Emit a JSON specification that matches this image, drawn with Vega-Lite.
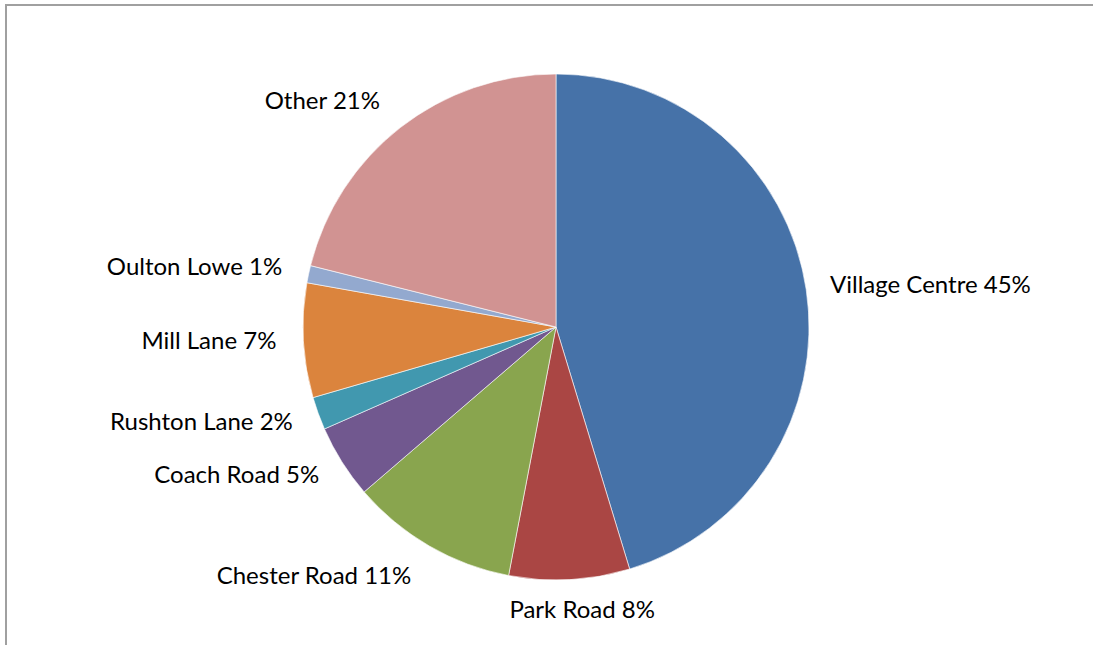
{
  "$schema": "https://vega.github.io/schema/vega-lite/v6.json",
  "autosize": "none",
  "width": 1100,
  "height": 644,
  "padding": {"left": 6, "top": 5, "right": -13, "bottom": -4},
  "background": "white",
  "data": {"values": [
    {"idx": 1, "category": "Village Centre", "value": 45.3, "label": "Village Centre 45%"},
    {"idx": 2, "category": "Park Road", "value": 7.7, "label": "Park Road 8%"},
    {"idx": 3, "category": "Chester Road", "value": 10.7, "label": "Chester Road 11%"},
    {"idx": 4, "category": "Coach Road", "value": 4.7, "label": "Coach Road 5%"},
    {"idx": 5, "category": "Rushton Lane", "value": 2.1, "label": "Rushton Lane 2%"},
    {"idx": 6, "category": "Mill Lane", "value": 7.3, "label": "Mill Lane 7%"},
    {"idx": 7, "category": "Oulton Lowe", "value": 1.1, "label": "Oulton Lowe 1%"},
    {"idx": 8, "category": "Other", "value": 21.1, "label": "Other 21%"}
  ]},
  "layer": [
    {
      "data": {"values": [{"frame": 1}]},
      "mark": {"type": "rect", "fill": null, "fillOpacity": 0, "stroke": "#a0a0a0", "strokeWidth": 2, "x2Offset": 40, "y2Offset": 40},
      "encoding": {}
    },
    {
      "mark": {"type": "arc", "outerRadius": 253, "stroke": "white", "strokeWidth": 0.6},
      "encoding": {
        "theta": {"field": "value", "type": "quantitative", "stack": true},
        "order": {"field": "idx", "type": "quantitative"},
        "color": {
          "field": "category", "type": "nominal", "legend": null,
          "scale": {
            "domain": ["Village Centre", "Park Road", "Chester Road", "Coach Road", "Rushton Lane", "Mill Lane", "Oulton Lowe", "Other"],
            "range": ["#4672A8", "#AA4644", "#89A54E", "#71588F", "#4198AF", "#DB843D", "#93A9CF", "#D19392"]
          }
        }
      }
    },
    {
      "mark": {"type": "text", "radius": 277, "align": "left", "baseline": "middle", "font": "Lato", "fontSize": 24, "color": "black"},
      "encoding": {
        "theta": {"field": "value", "type": "quantitative", "stack": true},
        "order": {"field": "idx", "type": "quantitative"},
        "text": {"condition": {"test": "datum.category === 'Village Centre'", "field": "label"}, "value": ""}
      }
    },
    {
      "mark": {"type": "text", "radius": 284, "dx": 11, "align": "center", "baseline": "middle", "font": "Lato", "fontSize": 24, "color": "black"},
      "encoding": {
        "theta": {"field": "value", "type": "quantitative", "stack": true},
        "order": {"field": "idx", "type": "quantitative"},
        "text": {"condition": {"test": "datum.category === 'Park Road'", "field": "label"}, "value": ""}
      }
    },
    {
      "mark": {"type": "text", "radius": 289, "align": "right", "baseline": "middle", "font": "Lato", "fontSize": 24, "color": "black"},
      "encoding": {
        "theta": {"field": "value", "type": "quantitative", "stack": true},
        "order": {"field": "idx", "type": "quantitative"},
        "text": {"condition": {"test": "datum.category === 'Chester Road'", "field": "label"}, "value": ""}
      }
    },
    {
      "mark": {"type": "text", "radius": 280, "align": "right", "baseline": "middle", "font": "Lato", "fontSize": 24, "color": "black"},
      "encoding": {
        "theta": {"field": "value", "type": "quantitative", "stack": true},
        "order": {"field": "idx", "type": "quantitative"},
        "text": {"condition": {"test": "indexof(['Coach Road','Rushton Lane','Mill Lane','Oulton Lowe'], datum.category) >= 0", "field": "label"}, "value": ""}
      }
    },
    {
      "mark": {"type": "text", "radius": 286, "align": "right", "baseline": "middle", "font": "Lato", "fontSize": 24, "color": "black"},
      "encoding": {
        "theta": {"field": "value", "type": "quantitative", "stack": true},
        "order": {"field": "idx", "type": "quantitative"},
        "text": {"condition": {"test": "datum.category === 'Other'", "field": "label"}, "value": ""}
      }
    }
  ]
}
